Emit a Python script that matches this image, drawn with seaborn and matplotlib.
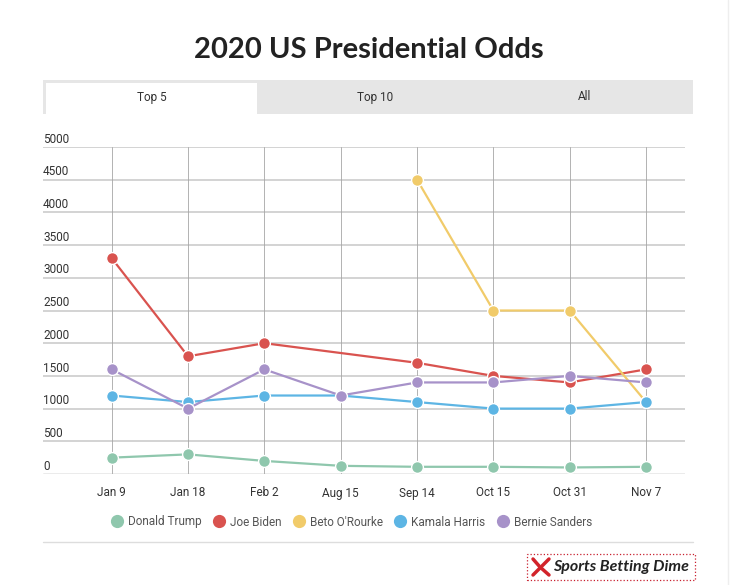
import numpy as np
import pandas as pd
import seaborn as sns
import matplotlib.pyplot as plt
from matplotlib.lines import Line2D
from matplotlib.patches import Rectangle

# Chart data
dates = ["Jan 9", "Jan 18", "Feb 2", "Aug 15", "Sep 14", "Oct 15", "Oct 31", "Nov 7"]
trump = [250, 300, 200, 125, 110, 110, 100, 110]
biden = [3300, 1800, 2000, np.nan, 1700, 1500, 1400, 1600]
beto = [np.nan, np.nan, np.nan, np.nan, 4500, 2500, 2500, 1100]
harris = [1200, 1100, 1200, 1200, 1100, 1000, 1000, 1100]
sanders = [1600, 1000, 1600, 1200, 1400, 1400, 1500, 1400]
y_ticks = [0, 500, 1000, 1500, 2000, 2500, 3000, 3500, 4000, 4500, 5000]
tabs = ["Top 5", "Top 10", "All"]

names = ["Donald Trump", "Joe Biden", "Beto O'Rourke", "Kamala Harris", "Bernie Sanders"]
colors = ["#8fc7ad", "#d9534f", "#f1cb6a", "#5db5e4", "#a792c9"]
palette = dict(zip(names, colors))

rows = []
for name, vals in zip(names, [trump, biden, beto, harris, sanders]):
    for i, v in enumerate(vals):
        rows.append({"pos": i, "odds": v, "candidate": name})
df = pd.DataFrame(rows).dropna()

sns.set_style("white")
plt.rcParams['font.family'] = ['Roboto', 'DejaVu Sans']

fig = plt.figure(figsize=(7.35, 5.85), dpi=100)
ax = fig.add_axes([43 / 735, 1 - 474 / 585, (685 - 43) / 735, (474 - 147) / 585])

sns.lineplot(data=df, x="pos", y="odds", hue="candidate", hue_order=names,
             palette=palette, marker="o", markersize=8.5, markeredgecolor="white",
             markeredgewidth=1, linewidth=1.6, legend=False, ax=ax, zorder=3)

ax.set_xlim(-0.9, 7.51)
ax.set_ylim(0, 5000)
ax.set_frame_on(False)

# grid lines
for t in y_ticks[1:]:
    ax.axhline(t, color="#cccccc", lw=1.2, zorder=1)
ax.axhline(0, color="#999999", lw=1.0, zorder=1)
for i in range(len(dates)):
    ax.axvline(i, color="#a6a6a6", lw=0.6, zorder=1)

ax.set_xticks(range(len(dates)))
ax.set_xticklabels(dates, fontsize=8.5, color="#333333")
ax.tick_params(axis="x", length=0, pad=9)
ax.set_yticks([])
ax.set_xlabel("")
ax.set_ylabel("")

# y labels sit just above their gridlines
for t in y_ticks:
    ax.annotate(str(t), xy=(0, t), xycoords=("axes fraction", "data"),
                xytext=(0, 1), textcoords="offset points",
                ha="left", va="bottom", fontsize=8.5, color="#333333")

# title
fig.text(369 / 735, 1 - 50 / 585, "2020 US Presidential Odds", ha="center", va="center",
         fontsize=21, fontweight="bold", color="#222222", family=["Lato", "DejaVu Sans"])

# tab bar
fig.patches.append(Rectangle((43 / 735, 1 - 114 / 585), 650 / 735, 34 / 585,
                             transform=fig.transFigure, facecolor="#e6e6e6",
                             edgecolor="none", zorder=0))
fig.patches.append(Rectangle((46 / 735, 1 - 114 / 585), 211 / 735, 31 / 585,
                             transform=fig.transFigure, facecolor="white",
                             edgecolor="none", zorder=1))
for label, xc in zip(tabs, [152, 375, 585]):
    fig.text(xc / 735, 1 - 97 / 585, label, ha="center", va="center",
             fontsize=8.5, color="#333333")

# legend
handles = [Line2D([], [], marker="o", linestyle="none", markersize=9.5,
                  markerfacecolor=c, markeredgecolor="none") for c in colors]
fig.legend(handles, names, loc="center", bbox_to_anchor=(351 / 735, 1 - 522 / 585),
           ncol=5, frameon=False, fontsize=8.5, labelcolor="#555555",
           handletextpad=0.3, columnspacing=0.9, handlelength=1.2)

# separator under legend
fig.add_artist(Line2D([43 / 735, 693 / 735], [1 - 542 / 585] * 2,
                      transform=fig.transFigure, color="#dddddd", lw=1))
fig.add_artist(Line2D([728 / 735, 728 / 735], [0, 1],
                      transform=fig.transFigure, color="#eeeeee", lw=1))

# logo box
fig.patches.append(Rectangle((527 / 735, 1 - 580 / 585), 168 / 735, 26 / 585,
                             transform=fig.transFigure, facecolor="white",
                             edgecolor="#c8202f", lw=0.9, linestyle=":"))
fig.add_artist(Line2D([533 / 735, 540 / 735, 549 / 735], [1 - 559 / 585, 1 - 567 / 585, 1 - 575 / 585],
                      transform=fig.transFigure, color="#d2232a", lw=2.5))
fig.add_artist(Line2D([533 / 735, 540 / 735], [1 - 575 / 585, 1 - 568 / 585],
                      transform=fig.transFigure, color="#d2232a", lw=2.5))
fig.add_artist(Line2D([542 / 735, 549 / 735], [1 - 566 / 585, 1 - 559 / 585],
                      transform=fig.transFigure, color="#d2232a", lw=2.5))
fig.text(553 / 735, 1 - 567 / 585, "Sports Betting Dime", ha="left", va="center",
         fontsize=11.5, fontweight="bold", style="italic", color="#222222",
         family=["Lato", "DejaVu Sans"])

fig.savefig("out.png", dpi=100, facecolor="white")
